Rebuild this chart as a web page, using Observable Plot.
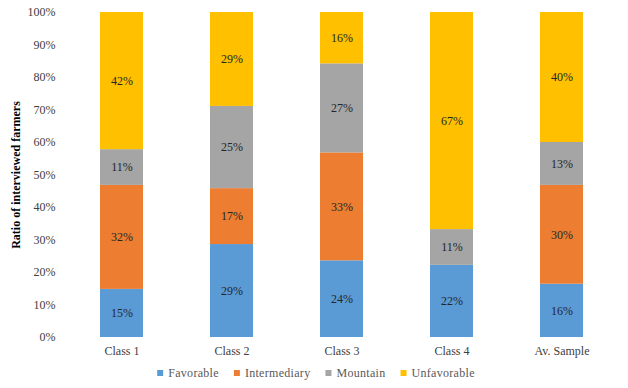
<!DOCTYPE html>
<html>
<head>
<meta charset="utf-8">
<script src="https://cdn.jsdelivr.net/npm/d3@7"></script>
<script src="https://cdn.jsdelivr.net/npm/@observablehq/plot@0.6"></script>
<style>
  html, body { margin: 0; padding: 0; background: #fff; }
  #chart { width: 628px; height: 388px; position: relative; overflow: hidden; }
  svg { display: block; }
</style>
</head>
<body>
<div id="chart"></div>
<script>
const classes = ["Class 1", "Class 2", "Class 3", "Class 4", "Av. Sample"];
const series = ["Favorable", "Intermediary", "Mountain", "Unfavorable"];
const favorable    = [14.8, 28.6, 23.6, 22.2, 16.4];
const intermediary = [32.0, 17.2, 33.2, 0.0, 30.4];
const mountain     = [11.0, 25.3, 27.4, 11.0, 13.2];
const unfavorable  = [42.2, 28.9, 15.8, 66.8, 40.0];
const yTicks = [0, 10, 20, 30, 40, 50, 60, 70, 80, 90, 100];
const colors = ["#5B9BD5", "#ED7D31", "#A5A5A5", "#FFC000"];

const seriesValues = [favorable, intermediary, mountain, unfavorable];
const data = [];
series.forEach((s, si) => classes.forEach((c, ci) => data.push({cls: c, series: s, value: seriesValues[si][ci]})));

const font = "Liberation Serif";
const plot = Plot.plot({
  width: 628,
  height: 364,
  marginLeft: 65,
  marginRight: 10,
  marginTop: 12,
  marginBottom: 27,
  style: {fontFamily: font, fontSize: "12px", color: "#404040", background: "#fff"},
  x: {domain: classes, paddingInner: 0.611, paddingOuter: 0.3055, label: null},
  y: {domain: [0, 100], label: null},
  color: {domain: series, range: colors},
  marks: [
    Plot.barY(data, {x: "cls", y: "value", fill: "series", order: null}),
    Plot.text(data.filter(d => d.value > 0), Plot.stackY({x: "cls", y: "value", z: "series", order: null,
      text: d => Math.round(d.value) + "%", fill: "#262626", fontSize: 12})),
    Plot.axisY({ticks: yTicks, tickFormat: d => d + "%", tickSize: 0, tickPadding: 10,
      label: "Ratio of interviewed farmers", labelAnchor: "center", labelArrow: "none", labelOffset: 54,
      fontSize: 12}),
    Plot.axisX({tickSize: 0, tickPadding: 9, label: null, fontSize: 12})
  ]
});
d3.select(plot).selectAll("[aria-label='y-axis label'] text").style("font-weight", "bold").style("fill", "#000");
document.getElementById("chart").appendChild(plot);

// legend below the plot, as SVG so it shares the serif font
const lsvg = d3.select("#chart").append("svg").attr("width", 628).attr("height", 24)
  .attr("font-family", font).attr("font-size", 12);
const g = lsvg.append("g");
let x = 0;
const gap = 15, swGap = 5, sw = 6;
series.forEach((s, i) => {
  g.append("rect").attr("x", x).attr("y", 9 - sw / 2).attr("width", sw).attr("height", sw).attr("fill", colors[i]);
  const t = g.append("text").attr("x", x + sw + swGap).attr("y", 9).attr("dy", "0.35em")
    .attr("fill", "#595959").attr("letter-spacing", "0.3px").text(s);
  x += sw + swGap + t.node().getComputedTextLength() + gap;
});
const total = x - gap;
g.attr("transform", `translate(${(628 - total) / 2 + 2},0)`);
</script>
</body>
</html>
